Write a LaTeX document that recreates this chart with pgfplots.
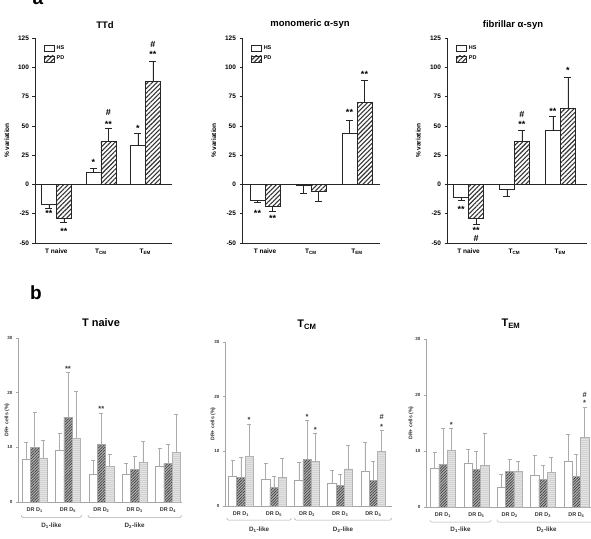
\documentclass[border=0pt]{standalone}
\usepackage{fontspec}
\setmainfont{Liberation Sans}
\usepackage{pgfplots}
\pgfplotsset{compat=1.18}
\usepackage{pgfplotstable}
\usetikzlibrary{patterns,patterns.meta}

\pgfplotstableread{
x hs hsp hsm pd pdp pdm
0 -16.8 0 3.2 -28.7 0 4.0
1 10.0 3.7 0 36.7 10.8 0
2 33.6 10.2 0 88.2 17.1 0
}\ttd
\pgfplotstableread{
x hs hsp hsm pd pdp pdm
0 -13.6 0 2.0 -18.4 0 4.3
1 -1.0 0 6.6 -6.2 0 8.2
2 43.3 11.1 0 70.3 18.7 0
}\mono
\pgfplotstableread{
x hs hsp hsm pd pdp pdm
0 -11.0 0 2.6 -29.0 0 4.8
1 -4.3 0 5.7 37.0 9.6 0
2 46.0 12.0 0 64.8 27.0 0
}\fib
\pgfplotstableread{
x w we h he g ge
0 7.8 3.2 10.0 6.5 8.05 3.25
1 9.45 3.15 15.5 8.3 11.7 8.5
2 5.0 2.6 10.5 5.8 6.5 2.3
3 5.1 1.9 5.9 2.5 7.3 3.9
4 6.5 3.3 7.0 3.5 9.1 6.9
}\naive
\pgfplotstableread{
x w we h he g ge
0 5.5 2.8 5.3 3.6 9.1 5.8
1 4.9 2.9 3.35 2.05 5.2 3.5
2 4.7 3.3 8.5 7.1 8.2 5.1
3 4.1 2.5 3.8 2.0 6.8 4.3
4 6.3 5.4 4.7 3.5 10.0 3.8
}\tcm
\pgfplotstableread{
x w we h he g ge
0 6.9 2.8 7.6 6.4 10.2 3.8
1 7.9 2.5 6.7 3.3 7.4 5.8
2 3.5 2.3 6.4 2.1 6.4 1.8
3 5.7 3.5 4.9 2.6 6.2 2.6
4 8.1 4.9 5.5 3.9 12.4 5.4
}\tem

\pgfplotsset{
  mylegend/.style={legend image code/.code={\draw[##1] (0pt,-3pt) rectangle (10pt,3pt);}},
  toperr/.style={error bars/y dir=both, error bars/y explicit,
    error bars/error bar style={black!85, line width=0.6pt},
    error bars/error mark options={rotate=90, mark size=3.5pt, black!85, line width=0.6pt}},
  boterr/.style={error bars/y dir=plus, error bars/y explicit,
    error bars/error bar style={gray!65, line width=0.5pt},
    error bars/error mark options={rotate=90, mark size=2pt, gray!65, line width=0.5pt}},
  hsbar/.style={fill=white, draw=black!85, line width=0.6pt, mylegend, toperr},
  pdbar/.style={fill=white, draw=black!85, line width=0.6pt,
    postaction={pattern={Lines[angle=45,distance=3.2pt,line width=1.1pt]}, pattern color=black!80},
    mylegend, toperr},
  wbar/.style={fill=white, draw=gray!70, line width=0.5pt, boterr},
  hbar/.style={fill=gray!60, draw=gray!70, line width=0.5pt,
    postaction={pattern={Lines[angle=45,distance=2pt,line width=0.7pt]}, pattern color=black!75}, boterr},
  gbar/.style={fill=gray!22, draw=gray!60, line width=0.5pt,
    postaction={pattern={Lines[angle=0,distance=2pt,line width=0.3pt]}, pattern color=gray!35}, boterr},
  topax/.style={scale only axis, anchor=south west, height=205pt,
    ymin=-50, ymax=125, ytick={-50,-25,0,25,50,75,100,125},
    axis lines=left, axis line style={-, black!85, line width=0.6pt},
    xtick={0,1,2}, xticklabels={T naive, T\textsubscript{CM}, T\textsubscript{EM}},
    xtick style={draw=none},
    ytick style={black!85, line width=0.6pt}, tick align=outside, major tick length=2.5pt,
    tick label style={font=\fontsize{6.5}{7}\selectfont\bfseries},
    /pgf/number format/assume math mode=true,
    ybar=0pt, bar width=15pt, clip=false,
    ylabel={\% variation},
    every axis y label/.style={at={(axis description cs:-0.205,0.5)}, anchor=center, rotate=90,
      font=\fontsize{6.5}{7}\selectfont\bfseries},
    legend style={at={(axis description cs:0.065,0.975)}, anchor=north west, draw=none, fill=none,
      font=\fontsize{5.5}{6}\selectfont\bfseries, row sep=1.5pt, inner sep=0pt},
    legend cell align=left},
  botax/.style={scale only axis, anchor=south west,
    ymin=0, ymax=30, ytick={0,10,20,30},
    axis lines=left, axis line style={-, gray!70, line width=0.6pt},
    xtick={0,1,2,3,4},
    xticklabels={DR D\textsubscript{1}, DR D\textsubscript{5}, DR D\textsubscript{2}, DR D\textsubscript{3}, DR D\textsubscript{4}},
    xtick style={draw=none},
    ytick style={gray!70, line width=0.5pt}, tick align=outside, major tick length=2pt,
    yticklabel style={font=\fontsize{4.5}{5}\selectfont\bfseries, text=black!80},
    xticklabel style={font=\fontsize{5.5}{6}\selectfont\bfseries, text=black!80},
    /pgf/number format/assume math mode=true,
    ybar=0pt, bar width=8.3pt, clip=false,
    ylabel={DR+ cells (\%)},
  }
}
\newcommand{\ann}[4]{\node[font=\fontsize{9}{9}\selectfont\bfseries, inner sep=0pt, xshift=#3] at (axis cs:#1,#2) {#4};}
\newcommand{\bann}[4]{\node[font=\fontsize{7.5}{7.5}\selectfont\bfseries, inner sep=0pt, xshift=#3, text=black!80] at (axis cs:#1,#2) {#4};}
\newcommand{\zline}[2]{\draw[black!85, line width=0.6pt] (axis cs:#1,0) -- (axis cs:#2,0);}
\newcommand{\grp}[5]{% x1 x2 ybrace ylabel text
  \draw[gray!70, line width=0.5pt, rounded corners=1.5pt] (axis cs:#1,#3+0.45) -- (axis cs:#1,#3) -- (axis cs:#2,#3) -- (axis cs:#2,#3+0.45);
  \node[font=\fontsize{6.3}{7}\selectfont\bfseries, text=black!80] at (axis cs:{(#1+#2)/2},#4) {#5};}

\begin{document}
\begin{tikzpicture}
\useasboundingbox (0pt,0pt) rectangle (591pt,538pt);
\node[anchor=base, font=\fontsize{19}{19}\selectfont\bfseries] at (38pt,533pt) {a};
\node[anchor=base, font=\fontsize{19}{19}\selectfont\bfseries] at (36pt,238pt) {b};

% ---------- a: TTd
\begin{axis}[topax, at={(35pt,295pt)}, width=137pt, xmin=-0.48, xmax=2.6]
\addplot[hsbar] table[x=x,y=hs,y error plus=hsp,y error minus=hsm]{\ttd};
\addplot[pdbar] table[x=x,y=pd,y error plus=pdp,y error minus=pdm]{\ttd};
\legend{HS,PD}
\zline{-0.48}{2.6}
\ann{0}{-24.9}{-7.5pt}{**}
\ann{0}{-40}{7.5pt}{**}
\ann{1}{19.2}{-7.5pt}{*}
\ann{1}{51.6}{7.5pt}{**}
\ann{1}{61.5}{7.5pt}{\#}
\ann{2}{48.2}{-7.5pt}{*}
\ann{2}{111.1}{7.5pt}{**}
\ann{2}{119.5}{7.5pt}{\#}
\end{axis}
\node[font=\fontsize{9.5}{10}\selectfont\bfseries] at (105pt,513pt) {TTd};

% ---------- a: monomeric
\begin{axis}[topax, at={(242pt,295pt)}, width=138pt, xmin=-0.5, xmax=2.5]
\addplot[hsbar] table[x=x,y=hs,y error plus=hsp,y error minus=hsm]{\mono};
\addplot[pdbar] table[x=x,y=pd,y error plus=pdp,y error minus=pdm]{\mono};
\legend{HS,PD}
\zline{-0.5}{2.5}
\ann{0}{-24.8}{-7.5pt}{**}
\ann{0}{-29.4}{7.5pt}{**}
\ann{2}{61.6}{-7.5pt}{**}
\ann{2}{93.9}{7.5pt}{**}
\end{axis}
\node[font=\fontsize{9.5}{10}\selectfont\bfseries] at (310pt,514pt) {monomeric α-syn};

% ---------- a: fibrillar
\begin{axis}[topax, at={(447pt,295pt)}, width=140pt, xmin=-0.47, xmax=2.58]
\addplot[hsbar] table[x=x,y=hs,y error plus=hsp,y error minus=hsm]{\fib};
\addplot[pdbar] table[x=x,y=pd,y error plus=pdp,y error minus=pdm]{\fib};
\legend{HS,PD}
\zline{-0.47}{2.58}
\ann{0}{-21.2}{-7.5pt}{**}
\ann{0}{-39.3}{7.5pt}{**}
\ann{0}{-46.5}{7.5pt}{\#}
\ann{1}{51.0}{7.5pt}{**}
\ann{1}{59.7}{7.5pt}{\#}
\ann{2}{62.6}{-7.5pt}{**}
\ann{2}{97.3}{7.5pt}{*}
\end{axis}
\node[font=\fontsize{9.5}{10}\selectfont\bfseries] at (513pt,513pt) {fibrillar α-syn};

% ---------- b: T naive
\begin{axis}[botax, at={(18pt,36pt)}, width=164pt, height=164pt, xmin=-0.5, xmax=4.42,
  every axis y label/.style={at={(axis description cs:-0.067,0.5)}, anchor=center, rotate=90,
      font=\fontsize{5.2}{6}\selectfont\bfseries, text=black!80}]
\addplot[wbar] table[x=x,y=w,y error plus=we]{\naive};
\addplot[hbar] table[x=x,y=h,y error plus=he]{\naive};
\addplot[gbar] table[x=x,y=g,y error plus=ge]{\naive};
\bann{1}{24.3}{0pt}{**}
\bann{2}{17.1}{0pt}{**}
\grp{-0.4}{1.4}{-2.85}{-4.4}{D\textsubscript{1}-like}
\grp{1.6}{4.4}{-2.85}{-4.4}{D\textsubscript{2}-like}
\end{axis}
\node[font=\fontsize{11}{12}\selectfont\bfseries] at (101pt,215pt) {T naive};

% ---------- b: TCM
\begin{axis}[botax, at={(225pt,32pt)}, width=166.5pt, height=164pt, xmin=-0.48, xmax=4.55,
  every axis y label/.style={at={(axis description cs:-0.072,0.5)}, anchor=center, rotate=90,
      font=\fontsize{5.2}{6}\selectfont\bfseries, text=black!80}]
\addplot[wbar] table[x=x,y=w,y error plus=we]{\tcm};
\addplot[hbar] table[x=x,y=h,y error plus=he]{\tcm};
\addplot[gbar] table[x=x,y=g,y error plus=ge]{\tcm};
\bann{0}{15.7}{8.3pt}{*}
\bann{2}{16.3}{0pt}{*}
\bann{2}{13.9}{8.3pt}{*}
\bann{4}{14.55}{8.3pt}{*}
\bann{4}{16.3}{8.3pt}{\#}
\grp{-0.42}{1.52}{-2.6}{-4.4}{D\textsubscript{1}-like}
\grp{1.62}{4.55}{-2.6}{-4.4}{D\textsubscript{2}-like}
\end{axis}
\node[font=\fontsize{11}{12}\selectfont\bfseries] at (307pt,213pt) {T\textsubscript{CM}};

% ---------- b: TEM
\begin{axis}[botax, at={(426pt,31pt)}, width=167pt, height=168pt, xmin=-0.51, xmax=4.5,
  every axis y label/.style={at={(axis description cs:-0.09,0.5)}, anchor=center, rotate=90,
      font=\fontsize{5.2}{6}\selectfont\bfseries, text=black!80}]
\addplot[wbar] table[x=x,y=w,y error plus=we]{\tem};
\addplot[hbar] table[x=x,y=h,y error plus=he]{\tem};
\addplot[gbar] table[x=x,y=g,y error plus=ge]{\tem};
\bann{0}{14.7}{8.3pt}{*}
\bann{4}{18.5}{8.3pt}{*}
\bann{4}{20.0}{8.3pt}{\#}
\grp{-0.39}{1.44}{-2.7}{-4.1}{D\textsubscript{1}-like}
\grp{1.62}{4.6}{-2.7}{-4.1}{D\textsubscript{2}-like}
\end{axis}
\node[font=\fontsize{11}{12}\selectfont\bfseries] at (511pt,214pt) {T\textsubscript{EM}};
\end{tikzpicture}
\end{document}
